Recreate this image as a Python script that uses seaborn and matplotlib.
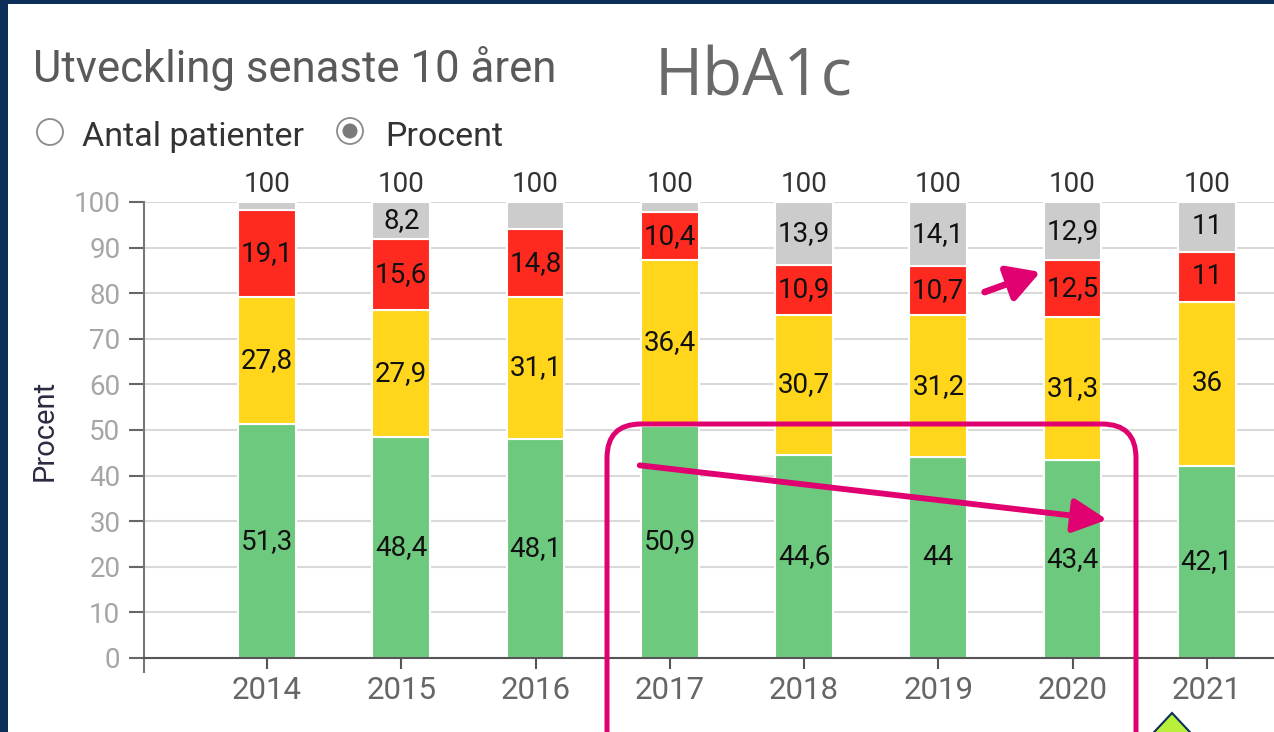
import matplotlib
matplotlib.use("Agg")
import matplotlib.pyplot as plt
import matplotlib.patches as mpatches
from matplotlib.transforms import IdentityTransform
import pandas as pd
import seaborn as sns

# data (percent per year)
years = ["2014", "2015", "2016", "2017", "2018", "2019", "2020", "2021"]
green = [51.3, 48.4, 48.1, 50.9, 44.6, 44.0, 43.4, 42.1]
yellow = [27.8, 27.9, 31.1, 36.4, 30.7, 31.2, 31.3, 36.0]
red = [19.1, 15.6, 14.8, 10.4, 10.9, 10.7, 12.5, 11.0]
grey = [1.8, 8.2, 6.0, 2.3, 13.9, 14.1, 12.9, 11.0]
totals = ["100", "100", "100", "100", "100", "100", "100", "100"]
green_labels = ["51,3", "48,4", "48,1", "50,9", "44,6", "44", "43,4", "42,1"]
yellow_labels = ["27,8", "27,9", "31,1", "36,4", "30,7", "31,2", "31,3", "36"]
red_labels = ["19,1", "15,6", "14,8", "10,4", "10,9", "10,7", "12,5", "11"]
grey_labels = ["", "8,2", "", "", "13,9", "14,1", "12,9", "11"]

W, H = 1274, 732

sns.set_theme(style="white")
plt.rcParams["font.family"] = ["Roboto", "DejaVu Sans"]

fig = plt.figure(figsize=(W / 100, H / 100), dpi=100)
ax = fig.add_axes([144 / W, 1 - 658 / H, 1 - 144 / W, (658 - 202) / H])

segments = [
    (green, green_labels, "#6dc97d"),
    (yellow, yellow_labels, "#ffd61c"),
    (red, red_labels, "#ff2a1f"),
    (grey, grey_labels, "#cccccc"),
]
bottom = [0.0] * len(years)
for vals, labels, col in segments:
    df = pd.DataFrame({"year": years, "value": vals})
    sns.barplot(data=df, x="year", y="value", order=years, color=col, width=0.43,
                errorbar=None, bottom=bottom, edgecolor="white", linewidth=1.5,
                saturation=1, ax=ax)
    ax.bar_label(ax.containers[-1], labels=labels, label_type="center",
                 fontsize=20, color="#111111")
    bottom = [b + v for b, v in zip(bottom, vals)]

for i, t in enumerate(totals):
    ax.annotate(t, (i, 100), xytext=(0, 3), textcoords="offset points",
                ha="center", va="bottom", fontsize=20, color="#333333",
                annotation_clip=False)

ax.set_xlim(-0.916, 7.50)
ax.set_ylim(0, 100)
ax.set_yticks(range(0, 101, 10))
ax.set_xlabel("")
ax.set_ylabel("")
ax.set_axisbelow(True)
ax.grid(axis="y", color="#d9d9d9", linewidth=1.5)
for s in ["top", "right"]:
    ax.spines[s].set_visible(False)
ax.spines["left"].set_color("#777777")
ax.spines["left"].set_linewidth(1.5)
ax.spines["left"].set_bounds(-3, 100)
ax.spines["bottom"].set_color("#555555")
ax.spines["bottom"].set_linewidth(1.5)
ax.tick_params(axis="y", length=11, width=1.5, color="#666666", pad=6,
               labelsize=20, labelcolor="#a6a6a6", left=True)
ax.tick_params(axis="x", length=8, width=1.5, color="#555555", pad=5,
               labelsize=22.5, labelcolor="#666666", bottom=True)

fig.text(45 / W, 1 - 430 / H, "Procent", rotation=90, ha="center", va="center",
         fontsize=21, color="#2a2a40")

# header texts
fig.text(33 / W, 1 - 82 / H, "Utveckling senaste 10 åren", fontsize=31.5,
         color="#5a5a5a", va="baseline")
fig.text(655 / W, 1 - 95 / H, "HbA1c", fontsize=47, color="#6a6a6a",
         va="baseline", family=["Open Sans", "DejaVu Sans"])
fig.text(82 / W, 1 - 146 / H, "Antal patienter", fontsize=24.5, color="#333333",
         va="baseline")
fig.text(385 / W, 1 - 146 / H, "Procent", fontsize=24.5, color="#333333",
         va="baseline")

ident = IdentityTransform()
fig.add_artist(mpatches.Circle((50, H - 132), 13, transform=ident, fill=False,
                               edgecolor="#8a8a8a", linewidth=1.3))
fig.add_artist(mpatches.Circle((350, H - 131), 13, transform=ident, fill=False,
                               edgecolor="#8a8a8a", linewidth=1.3))
fig.add_artist(mpatches.Circle((350, H - 131), 7.5, transform=ident,
                               facecolor="#7a7a7a", edgecolor="none"))

# frame of the screenshot
fig.add_artist(mpatches.Rectangle((0, 0), 8, H, transform=ident,
                                  facecolor="#0b2e5a", edgecolor="none"))
fig.add_artist(mpatches.Rectangle((0, H - 4), W, 4, transform=ident,
                                  facecolor="#0b2e5a", edgecolor="none"))

# magenta annotations
mag = "#e0006f"
fig.add_artist(mpatches.FancyBboxPatch((607, -60), 529, H - 424 + 60,
                                       boxstyle="round,pad=0,rounding_size=34",
                                       transform=ident, fill=False,
                                       edgecolor=mag, linewidth=3.6))
fig.add_artist(mpatches.FancyArrowPatch((637, H - 465), (1110, H - 520),
                                        transform=ident, color=mag,
                                        arrowstyle="-|>,head_length=1.6,head_width=0.8",
                                        mutation_scale=13, linewidth=4.2))
fig.add_artist(mpatches.FancyArrowPatch((982, H - 293), (1043, H - 271),
                                        transform=ident, color=mag,
                                        arrowstyle="-|>,head_length=1.5,head_width=0.85",
                                        mutation_scale=13, linewidth=4.8))
fig.add_artist(mpatches.Polygon([(1172, H - 713), (1202, H - 745), (1172, H - 777),
                                 (1142, H - 745)], closed=True, transform=ident,
                                facecolor="#b8f03c", edgecolor="#0b2e5a",
                                linewidth=1.5))

fig.savefig("out.png", dpi=100)
